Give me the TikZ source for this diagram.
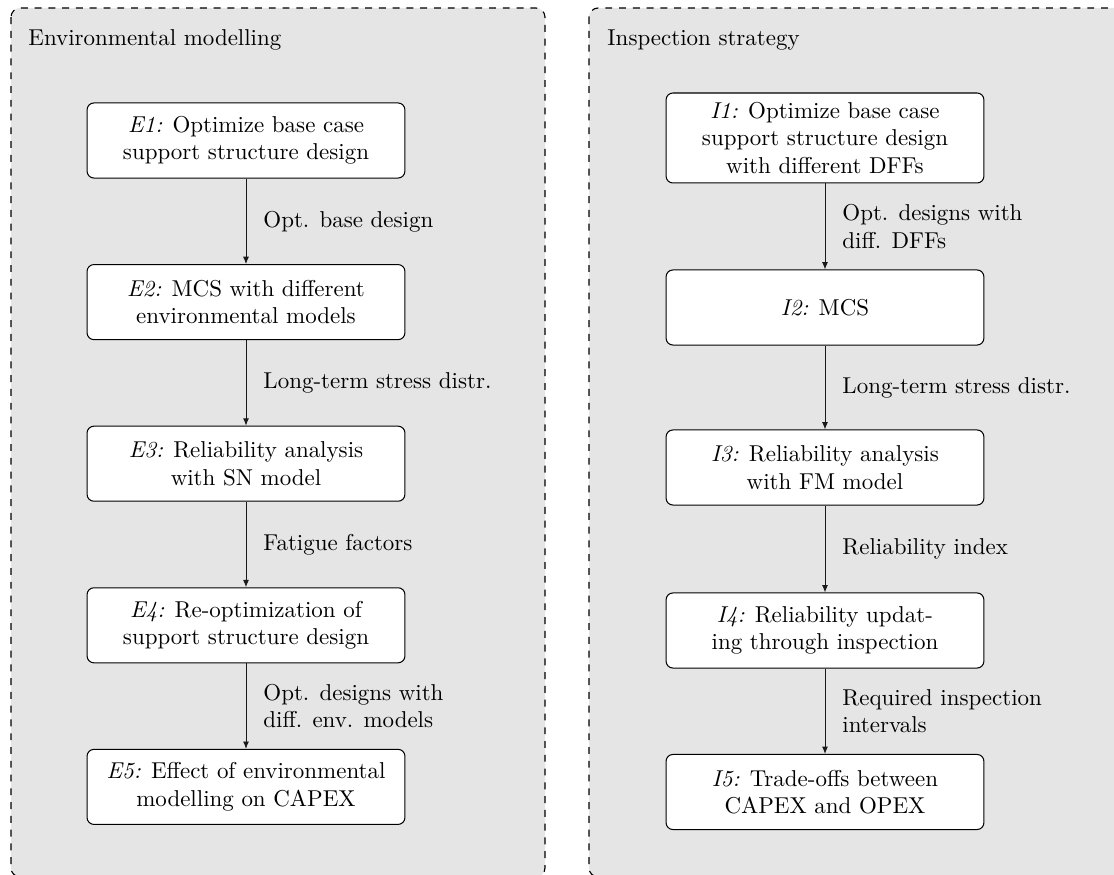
\documentclass[tikz,border=0pt]{standalone}
\usetikzlibrary{arrows.meta}
\begin{document}
\begin{tikzpicture}[x=0.4357pt,y=-0.4357pt,
  panel/.style={draw=black, dashed, fill=black!10, rounded corners=4pt, line width=0.5pt},
  stepbox/.style={draw=black, fill=white, rounded corners=3pt, minimum width=138.5pt, minimum height=32.7pt, align=center, inner sep=2pt, line width=0.45pt},
  flow/.style={draw=black!90, line width=0.4pt, -{Latex[length=3.2pt,width=2.6pt]}},
  lbl/.style={midway, right=7.4pt, align=left, inner sep=0pt},
  paneltitle/.style={anchor=base west, inner sep=0pt}]
\useasboundingbox (0,0) rectangle (1114,875);
\clip (0,0) rectangle (1114,875);
\path[panel] (11,8) rectangle (545,877);
\path[panel] (589,8) rectangle (1140,877);
\node[paneltitle] (tE) at (28,46) {Environmental modelling};
\node[paneltitle] (tI) at (607,46) {Inspection strategy};
% left column
\node[stepbox] (E1) at (246,140.5) {\textit{E1:} Optimize base case\\support structure design};
\node[stepbox] (E2) at (246,302.1) {\textit{E2:} MCS with different\\environmental models};
\node[stepbox] (E3) at (246,463.7) {\textit{E3:} Reliability analysis\\with SN model};
\node[stepbox] (E4) at (246,625.3) {\textit{E4:} Re-optimization of\\support structure design};
\node[stepbox] (E5) at (246,786.9) {\textit{E5:} Effect of environmental\\modelling on CAPEX};
\draw[flow] (E1) -- (E2) node[lbl] {Opt. base design};
\draw[flow] (E2) -- (E3) node[lbl] {Long-term stress distr.};
\draw[flow] (E3) -- (E4) node[lbl] {Fatigue factors};
\draw[flow] (E4) -- (E5) node[lbl] {Opt. designs with\\diff. env. models};
% right column
\node[stepbox, minimum height=39.2pt] (I1) at (825,138) {\textit{I1:} Optimize base case\\support structure design\\with different DFFs};
\node[stepbox] (I2) at (825,307.5) {\textit{I2:} MCS};
\node[stepbox] (I3) at (825,467.5) {\textit{I3:} Reliability analysis\\with FM model};
\node[stepbox] (I4) at (825,630.5) {\textit{I4:} Reliability updat-\\ing through inspection};
\node[stepbox] (I5) at (825,792) {\textit{I5:} Trade-offs between\\CAPEX and OPEX};
\draw[flow] (I1) -- (I2) node[lbl] {Opt. designs with\\diff. DFFs};
\draw[flow] (I2) -- (I3) node[lbl] {Long-term stress distr.};
\draw[flow] (I3) -- (I4) node[lbl] {Reliability index};
\draw[flow] (I4) -- (I5) node[lbl] {Required inspection\\intervals};
\end{tikzpicture}
\end{document}
